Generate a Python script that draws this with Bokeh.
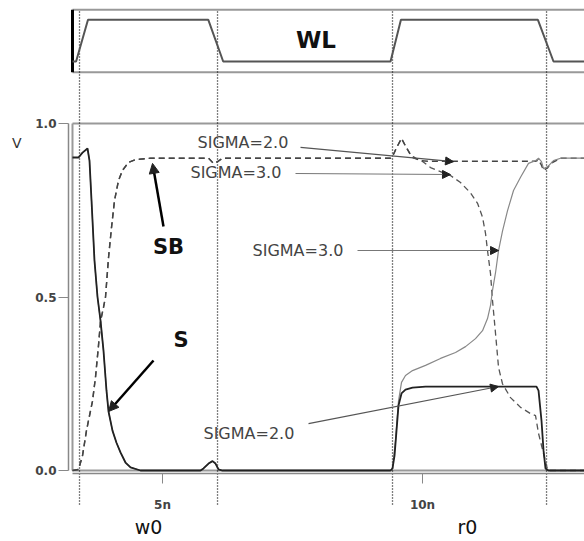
from bokeh.plotting import figure
from bokeh.models import (Range1d, LinearAxis, FixedTicker, PrintfTickFormatter,
                          Arrow, NormalHead, Label)
from bokeh.embed import file_html
from bokeh.resources import INLINE

# ---------------- data (time in ns, voltage in V) ----------------
wl_time = [3.269, 3.338, 3.567, 5.881, 6.167, 9.385, 9.585, 12.219, 12.519, 13.115]
wl_level = [0, 0, 1, 1, 0, 0, 1, 1, 0, 0]

# write phase (identical for both sigma values)
s_write_time = [3.269, 3.385, 3.462, 3.558, 3.596, 3.635, 3.692, 3.75, 3.808, 3.865,
                3.923, 3.962, 4.038, 4.115, 4.192, 4.288, 4.385, 4.577, 5.731, 5.788,
                5.885, 5.962, 6.019, 6.077, 6.154, 9.385]
s_write = [0.902, 0.902, 0.916, 0.928, 0.893, 0.778, 0.605, 0.50, 0.432, 0.346,
           0.23, 0.17, 0.115, 0.08, 0.052, 0.023, 0.009, 0.0, 0.0, 0.006,
           0.02, 0.027, 0.02, 0.003, 0.0, 0.0]
sb_write_time = [3.269, 3.385, 3.462, 3.538, 3.577, 3.654, 3.712, 3.769, 3.808, 3.865,
                 3.904, 3.962, 4.019, 4.077, 4.154, 4.231, 4.346, 4.481, 4.769, 5.885,
                 5.981, 6.058, 6.154, 9.385]
sb_write = [0.0, 0.003, 0.043, 0.115, 0.144, 0.2, 0.27, 0.36, 0.43, 0.47,
            0.5, 0.614, 0.70, 0.778, 0.836, 0.865, 0.888, 0.896, 0.9, 0.9,
            0.885, 0.89, 0.9, 0.9]

# read phase
s_sigma2_time = [9.423, 9.462, 9.5, 9.538, 9.596, 9.673, 9.808, 10.058, 12.192, 12.231,
                 12.288, 12.327, 12.365, 12.423, 13.115]
s_sigma2 = [0.006, 0.043, 0.115, 0.187, 0.222, 0.233, 0.239, 0.242, 0.242, 0.23,
            0.144, 0.058, 0.006, 0.0, 0.0]
s_sigma3_time = [9.423, 9.481, 9.538, 9.596, 9.673, 9.808, 10.058, 10.346, 10.635, 10.827,
                 11.019, 11.154, 11.25, 11.308, 11.346, 11.404, 11.462, 11.538, 11.635, 11.75,
                 11.885, 12.038, 12.173, 12.231, 12.288, 12.327, 12.404, 12.519, 12.654, 13.115]
s_sigma3 = [0.006, 0.086, 0.2, 0.254, 0.274, 0.288, 0.303, 0.323, 0.34, 0.357,
            0.38, 0.403, 0.438, 0.476, 0.519, 0.57, 0.634, 0.69, 0.749, 0.807,
            0.845, 0.885, 0.893, 0.9, 0.89, 0.87, 0.875, 0.893, 0.9, 0.9]
sb_spike_time = [9.423, 9.5, 9.596, 9.673]
sb_spike = [0.905, 0.93, 0.957, 0.935]
sb_sigma2_time = [9.769, 9.865, 9.962, 10.154, 12.173, 12.231, 12.288, 12.327, 12.404, 12.462,
                  12.654, 13.115]
sb_sigma2 = [0.91, 0.9, 0.893, 0.891, 0.891, 0.895, 0.88, 0.865, 0.872, 0.885,
             0.9, 0.9]
sb_sigma3_time = [9.769, 9.827, 9.962, 10.154, 10.538, 10.731, 10.923, 11.058, 11.154, 11.212,
                  11.25, 11.308, 11.346, 11.404, 11.462, 11.538, 11.692, 11.885, 12.077, 12.173,
                  12.231, 12.327, 12.404, 12.423, 13.115]
sb_sigma3 = [0.91, 0.9, 0.895, 0.873, 0.85, 0.83, 0.80, 0.77, 0.73, 0.683,
             0.634, 0.567, 0.49, 0.395, 0.297, 0.25, 0.21, 0.182, 0.164, 0.158,
             0.107, 0.049, 0.003, 0.0, 0.0]

event_times = [3.404, 6.058, 9.423, 12.385]
x_ticks = [5, 10]
y_ticks = [0.0, 0.5, 1.0]
phase_labels = ["w0", "r0"]
phase_label_times = [4.731, 10.865]

# ---------------- layout constants ----------------
T_MIN, T_MAX = 1.8846, 13.115
V_MIN, V_MAX = -0.2046, 1.3545
WL_MIN, WL_MAX = -11.511, 1.4628
T_AXIS = 3.1923
T_LEFT = 3.269
WL_BOX = (-0.2566, 1.24)
FONT = "DejaVu Sans"

p = figure(width=584, height=541, output_backend="svg", toolbar_location=None,
           x_range=Range1d(T_MIN, T_MAX), y_range=Range1d(V_MIN, V_MAX),
           x_axis_location=None, y_axis_location=None,
           min_border_left=0, min_border_right=0, min_border_top=0, min_border_bottom=0)
p.extra_y_ranges = {"wl": Range1d(WL_MIN, WL_MAX)}
p.outline_line_color = None
p.xgrid.visible = False
p.ygrid.visible = False
p.background_fill_color = "white"
p.border_fill_color = "white"

# y axis (volts)
yax = LinearAxis(ticker=FixedTicker(ticks=y_ticks), formatter=PrintfTickFormatter(format="%.1f"),
                 bounds=(0, 1.0), fixed_location=T_AXIS)
yax.axis_line_color = "#888888"
yax.axis_line_width = 1.5
yax.major_tick_line_color = "#888888"
yax.major_tick_out = 10
yax.major_tick_in = 0
yax.minor_tick_line_color = None
yax.major_label_standoff = 2
yax.major_label_text_font = FONT
yax.major_label_text_font_style = "bold"
yax.major_label_text_font_size = "12px"
yax.major_label_text_color = "#444444"
p.add_layout(yax, "left")

# x axis (time) fixed on the voltage zero line
xax = LinearAxis(ticker=FixedTicker(ticks=x_ticks), formatter=PrintfTickFormatter(format="%dn"),
                 bounds=(T_LEFT, T_MAX), fixed_location=-0.009)
xax.axis_line_color = "#888888"
xax.axis_line_width = 1.5
xax.major_tick_line_color = "#888888"
xax.major_tick_out = 10
xax.major_tick_in = 0
xax.minor_tick_line_color = None
xax.major_label_standoff = 14
xax.major_label_text_font = FONT
xax.major_label_text_font_style = "bold"
xax.major_label_text_font_size = "12px"
xax.major_label_text_color = "#444444"
p.add_layout(xax, "below")

# frames
p.segment(x0=[T_LEFT, T_LEFT, T_LEFT], y0=[1.0, 0.0, 0.0], x1=[T_MAX, T_MAX, T_LEFT], y1=[1.0, 0.0, 1.0],
          line_color="#999999", line_width=2)
p.segment(x0=[T_LEFT, T_LEFT], y0=[WL_BOX[1], WL_BOX[0]], x1=[T_MAX, T_MAX], y1=[WL_BOX[1], WL_BOX[0]],
          line_color="#999999", line_width=2, y_range_name="wl")
p.segment(x0=[T_LEFT], y0=[WL_BOX[0]], x1=[T_LEFT], y1=[WL_BOX[1]],
          line_color="black", line_width=3, y_range_name="wl")

# event markers
p.segment(x0=event_times, y0=[-0.098] * len(event_times), x1=event_times, y1=[1.3256] * len(event_times),
          line_color="black", line_width=1.3, line_dash="1 2")

# WL waveform
p.line(wl_time, wl_level, y_range_name="wl", line_color="#555555", line_width=2)

# SB curves (dashed)
p.line(sb_write_time + sb_spike_time + sb_sigma3_time, sb_write + sb_spike + sb_sigma3,
       line_color="#555555", line_width=1.3, line_dash="6 4")
p.line(sb_write_time + sb_spike_time + sb_sigma2_time, sb_write + sb_spike + sb_sigma2,
       line_color="#444444", line_width=1.5, line_dash="6 4")
# S curves
p.line(s_write_time + s_sigma3_time, s_write + s_sigma3, line_color="#888888", line_width=1.2)
p.line(s_write_time + s_sigma2_time, s_write + s_sigma2, line_color="#222222", line_width=1.8)

# annotations
def lab(text, x, y, size, bold=False, align="left", color="#444444", baseline="middle", rng="default"):
    p.add_layout(Label(x=x, y=y, text=text, text_font=FONT, text_font_size=size,
                       text_font_style="bold" if bold else "normal", text_align=align,
                       text_baseline=baseline, text_color=color, y_range_name=rng))

lab("WL", 7.952, 0.504, "23px", bold=True, align="center", color="#111111", rng="wl")
lab("V", 2.2, 0.945, "14px", align="center", color="#333333")
lab("SB", 5.115, 0.6455, "21px", bold=True, align="center", color="#111111")
lab("S", 5.356, 0.3775, "21px", bold=True, align="center", color="#111111")
lab("SIGMA=2.0", 5.673, 0.945, "16px")
lab("SIGMA=3.0", 5.538, 0.859, "16px")
lab("SIGMA=3.0", 6.731, 0.634, "16px")
lab("SIGMA=2.0", 5.788, 0.1066, "16px")
for name, tt in zip(phase_labels, phase_label_times):
    lab(name, tt, -0.1614, "19px", align="center", color="#111111", baseline="alphabetic")

def arrow(x0, y0, x1, y1, color, width, size):
    p.add_layout(Arrow(x_start=x0, y_start=y0, x_end=x1, y_end=y1, line_color=color, line_width=width,
                       end=NormalHead(size=size, fill_color="#222222", line_color="#222222")))

arrow(7.654, 0.931, 10.596, 0.890, "#555555", 1.2, 8)
arrow(7.558, 0.856, 10.538, 0.853, "#777777", 1.2, 8)
arrow(8.75, 0.634, 11.462, 0.634, "#777777", 1.2, 8)
arrow(7.808, 0.135, 11.462, 0.242, "#555555", 1.2, 8)
arrow(5.019, 0.703, 4.808, 0.885, "black", 2.5, 10)
arrow(4.827, 0.317, 3.962, 0.170, "black", 2.5, 10)

open("out.html", "w").write(file_html(p, INLINE))
